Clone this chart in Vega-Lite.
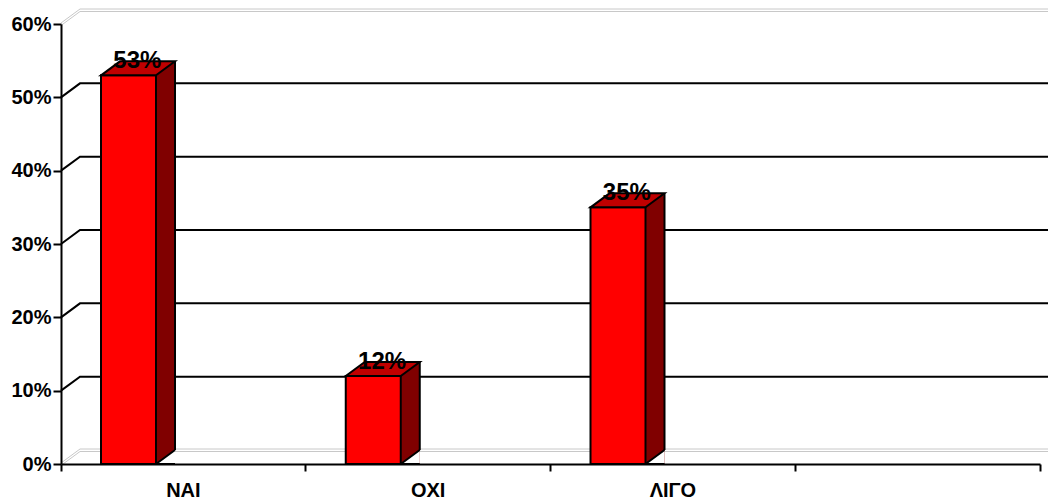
{
  "$schema": "https://vega.github.io/schema/vega-lite/v6.json",
  "width": 979,
  "height": 440,
  "autosize": "none",
  "padding": {"left": 61, "top": 24, "right": 8, "bottom": 40},
  "background": "white",
  "datasets": {
    "main": [
      {"cat": "ΝΑΙ", "value": 0.53},
      {"cat": "ΟΧΙ", "value": 0.12},
      {"cat": "ΛΙΓΟ", "value": 0.35}
    ],
    "grid": [{"v": 0.1}, {"v": 0.2}, {"v": 0.3}, {"v": 0.4}, {"v": 0.5}],
    "wall": [{"v": 0}, {"v": 0.6}]
  },
  "config": {
    "view": {"stroke": null},
    "font": "Liberation Sans"
  },
  "resolve": {"scale": {"x": "shared", "y": "shared"}},
  "layer": [
    {
      "data": {"name": "wall"},
      "mark": {"type": "point", "shape": "M0,0 L19,-14 L1100,-14", "size": 4, "filled": false, "stroke": "#c8c8c8", "strokeWidth": 1, "opacity": 1, "xOffset": -122.375, "yOffset": -1},
      "encoding": {
        "x": {"datum": "ΝΑΙ", "type": "nominal", "scale": {"domain": ["ΝΑΙ", "ΟΧΙ", "ΛΙΓΟ", " "], "paddingInner": 0, "paddingOuter": 0},
          "axis": {"title": null, "labelAngle": 0, "labelFont": "Liberation Sans", "labelFontSize": 20, "labelFontWeight": "bold", "labelColor": "black", "labelPadding": 9, "domainColor": "black", "domainWidth": 2, "tickColor": "black", "tickWidth": 2, "tickSize": 7, "bandPosition": 1, "tickExtra": true, "zindex": 1}},
        "y": {"field": "v", "type": "quantitative", "scale": {"domain": [0, 0.6], "nice": false},
          "axis": {"title": null, "values": [0, 0.1, 0.2, 0.3, 0.4, 0.5, 0.6], "format": ".0%", "grid": false, "labelFont": "Liberation Sans", "labelFontSize": 20, "labelFontWeight": "bold", "labelColor": "black", "labelPadding": 2, "domainColor": "black", "domainWidth": 2, "tickColor": "black", "tickWidth": 2, "tickSize": 8, "zindex": 1}}
      }
    },
    {
      "data": {"name": "wall"},
      "mark": {"type": "point", "shape": "M0,0 L19,-14 L1100,-14", "size": 4, "filled": false, "stroke": "#c8c8c8", "strokeWidth": 1, "opacity": 1, "xOffset": -122.375, "yOffset": 1.5},
      "encoding": {
        "x": {"datum": "ΝΑΙ", "type": "nominal"},
        "y": {"field": "v", "type": "quantitative"}
      }
    },
    {
      "data": {"name": "grid"},
      "mark": {"type": "point", "shape": "M0,0 L19,-14 L1100,-14", "size": 4, "filled": false, "stroke": "black", "strokeWidth": 2, "opacity": 1, "xOffset": -122.375},
      "encoding": {
        "x": {"datum": "ΝΑΙ", "type": "nominal"},
        "y": {"field": "v", "type": "quantitative"}
      }
    },
    {
      "data": {"name": "main"},
      "mark": {"type": "bar", "width": 19, "xOffset": -17.875, "yOffset": -14, "y2Offset": 0, "fill": "#800000", "strokeWidth": 0},
      "encoding": {
        "x": {"field": "cat", "type": "nominal"},
        "y": {"field": "value", "type": "quantitative"},
        "y2": {"datum": 0}
      }
    },
    {
      "data": {"name": "main"},
      "mark": {"type": "point", "shape": "M19,0 L0,0 L19,-14", "size": 4, "filled": true, "fill": "white", "stroke": "black", "strokeWidth": 2, "opacity": 1, "xOffset": -27.375},
      "encoding": {
        "x": {"field": "cat", "type": "nominal"},
        "y": {"datum": 0, "type": "quantitative"}
      }
    },
    {
      "data": {"name": "main"},
      "mark": {"type": "bar", "width": 55, "xOffset": -54.875, "fill": "#ff0000", "stroke": "black", "strokeWidth": 2},
      "encoding": {
        "x": {"field": "cat", "type": "nominal"},
        "y": {"field": "value", "type": "quantitative"}
      }
    },
    {
      "data": {"name": "main"},
      "mark": {"type": "rule", "xOffset": -8.375, "yOffset": -14, "y2Offset": -14, "stroke": "black", "strokeWidth": 2},
      "encoding": {
        "x": {"field": "cat", "type": "nominal"},
        "y": {"field": "value", "type": "quantitative"},
        "y2": {"datum": 0}
      }
    },
    {
      "data": {"name": "main"},
      "mark": {"type": "point", "shape": "M0,0 L19,-14 L74,-14 L55,0 Z", "size": 4, "filled": true, "fill": "#c00000", "stroke": "black", "strokeWidth": 2, "opacity": 1, "xOffset": -82.375},
      "encoding": {
        "x": {"field": "cat", "type": "nominal"},
        "y": {"field": "value", "type": "quantitative"}
      }
    },
    {
      "data": {"name": "main"},
      "mark": {"type": "text", "font": "Liberation Sans", "fontSize": 24, "fontWeight": "bold", "color": "black", "baseline": "alphabetic", "align": "center", "xOffset": -46, "yOffset": -7},
      "encoding": {
        "x": {"field": "cat", "type": "nominal"},
        "y": {"field": "value", "type": "quantitative"},
        "text": {"field": "value", "type": "quantitative", "format": ".0%"}
      }
    }
  ]
}
